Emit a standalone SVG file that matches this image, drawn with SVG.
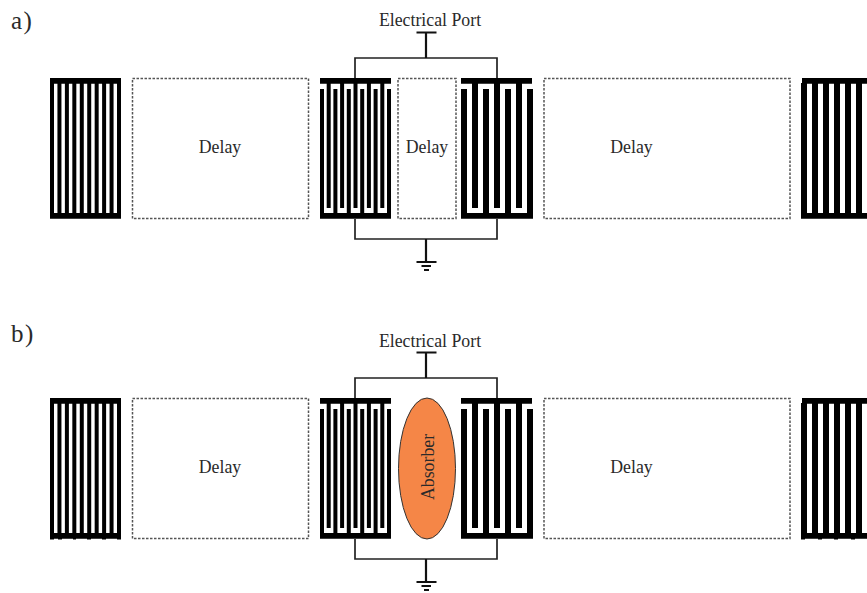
<svg xmlns="http://www.w3.org/2000/svg" width="867" height="593" viewBox="0 0 867 593">
<style>
text{font-family:"Liberation Serif","Times New Roman",serif;fill:#2a2a2a;font-size:17.800px}
.lbl{font-size:25px;letter-spacing:1.500px}
.w{fill:#000;stroke:none}
.d{fill:#fff;stroke:#555;stroke-width:1.500;stroke-dasharray:2.500 1.500}
.c{fill:none;stroke:#222;stroke-width:1.700}
.s{fill:none;stroke:#111;stroke-width:2.200}
</style>
<defs>
<path id="refl-l" class="w" d="M50 78h71v5.700H50zM50 213h71v5.700H50zM50 83h4v131h-4zM57.440 83h4v131h-4zM64.890 83h4v131h-4zM72.330 83h4v131h-4zM79.780 83h4v131h-4zM87.220 83h4v131h-4zM94.670 83h4v131h-4zM102.110 83h4v131h-4zM109.560 83h4v131h-4zM117 83h4v131h-4z"/>
<path id="refl-r" class="w" d="M802 78h65v5.700h-65zM801 213h66v5.700h-66zM801 83h6v131h-6zM812 83h6v131h-6zM823 83h6v131h-6zM834 83h6v131h-6zM845 83h6v131h-6zM856 83h6v131h-6z"/>
<path id="idt-l" class="w" d="M320 78h71v5.700h-71zM320 213h71v5.700h-71zM320 89h4v125h-4zM333.400 89h4v125h-4zM346.800 89h4v125h-4zM360.200 89h4v125h-4zM373.600 89h4v125h-4zM387 89h4v125h-4zM326.700 83h4v125h-4zM340.100 83h4v125h-4zM353.500 83h4v125h-4zM366.900 83h4v125h-4zM380.300 83h4v125h-4z"/>
<path id="idt-r" class="w" d="M461 78h71v5.700h-71zM461 213h72v5.700h-72zM461 89h6v125h-6zM483 89h6v125h-6zM505 89h6v125h-6zM527 89h6v125h-6zM472 83h6v125h-6zM494 83h6v125h-6zM516 83h6v125h-6z"/>
<path id="wires" class="c" d="M355 78V58H497V78M355 219V239H497V219"/>
<path id="stems" class="s" d="M426 58V32.500M416.500 32.500H436.500M426 239V262M416.500 262H436.500M421.500 266H431M424 270H429"/>
</defs>
<text class="lbl" x="11" y="28.500">a)</text>
<text class="lbl" x="11" y="342">b)</text>
<g id="connectors">
<use href="#wires"/><use href="#stems"/>
<use href="#wires" y="320"/><use href="#stems" y="320"/>
</g>
<g id="a-port"><text x="430" y="26" text-anchor="middle">Electrical Port</text></g>
<g id="a-reflector-left"><use href="#refl-l"/></g>
<g id="a-delay-left"><rect class="d" x="132.500" y="78.500" width="176" height="140"/><text x="220" y="153" text-anchor="middle">Delay</text></g>
<g id="a-idt-left"><use href="#idt-l"/></g>
<g id="a-delay-center"><rect class="d" x="398" y="78.500" width="58" height="140"/><text x="427" y="153" text-anchor="middle">Delay</text></g>
<g id="a-idt-right"><use href="#idt-r"/></g>
<g id="a-delay-right"><rect class="d" x="544" y="78.500" width="246" height="140"/><text x="631.500" y="153" text-anchor="middle">Delay</text></g>
<g id="a-reflector-right"><use href="#refl-r"/></g>
<g id="b-port"><text x="430" y="347" text-anchor="middle">Electrical Port</text></g>
<g id="b-reflector-left"><use href="#refl-l" y="320"/><path class="w" d="M50 538h4v1.500h-4zM58 538h4v1.500h-4zM73 538h3v1.500h-3zM87 538h4v1.500h-4zM102 538h4v1.500h-4zM117 538h4v1.500h-4z"/></g>
<g id="b-delay-left"><rect class="d" x="132.500" y="398.500" width="176" height="140"/><text x="220" y="473" text-anchor="middle">Delay</text></g>
<g id="b-idt-left"><use href="#idt-l" y="320"/></g>
<g id="b-absorber"><ellipse cx="427" cy="468.500" rx="28.500" ry="70.500" fill="#f58647" stroke="#333" stroke-width="1"/><text transform="translate(433.500 467) rotate(-90)" text-anchor="middle">Absorber</text></g>
<g id="b-idt-right"><use href="#idt-r" y="320"/></g>
<g id="b-delay-right"><rect class="d" x="544" y="398.500" width="246" height="140"/><text x="631.500" y="473" text-anchor="middle">Delay</text></g>
<g id="b-reflector-right"><use href="#refl-r" y="320"/><path class="w" d="M801 538h4v1.500h-4zM818 538h4v1.500h-4zM834 538h4v1.500h-4zM851 538h4v1.500h-4z"/></g>
</svg>
